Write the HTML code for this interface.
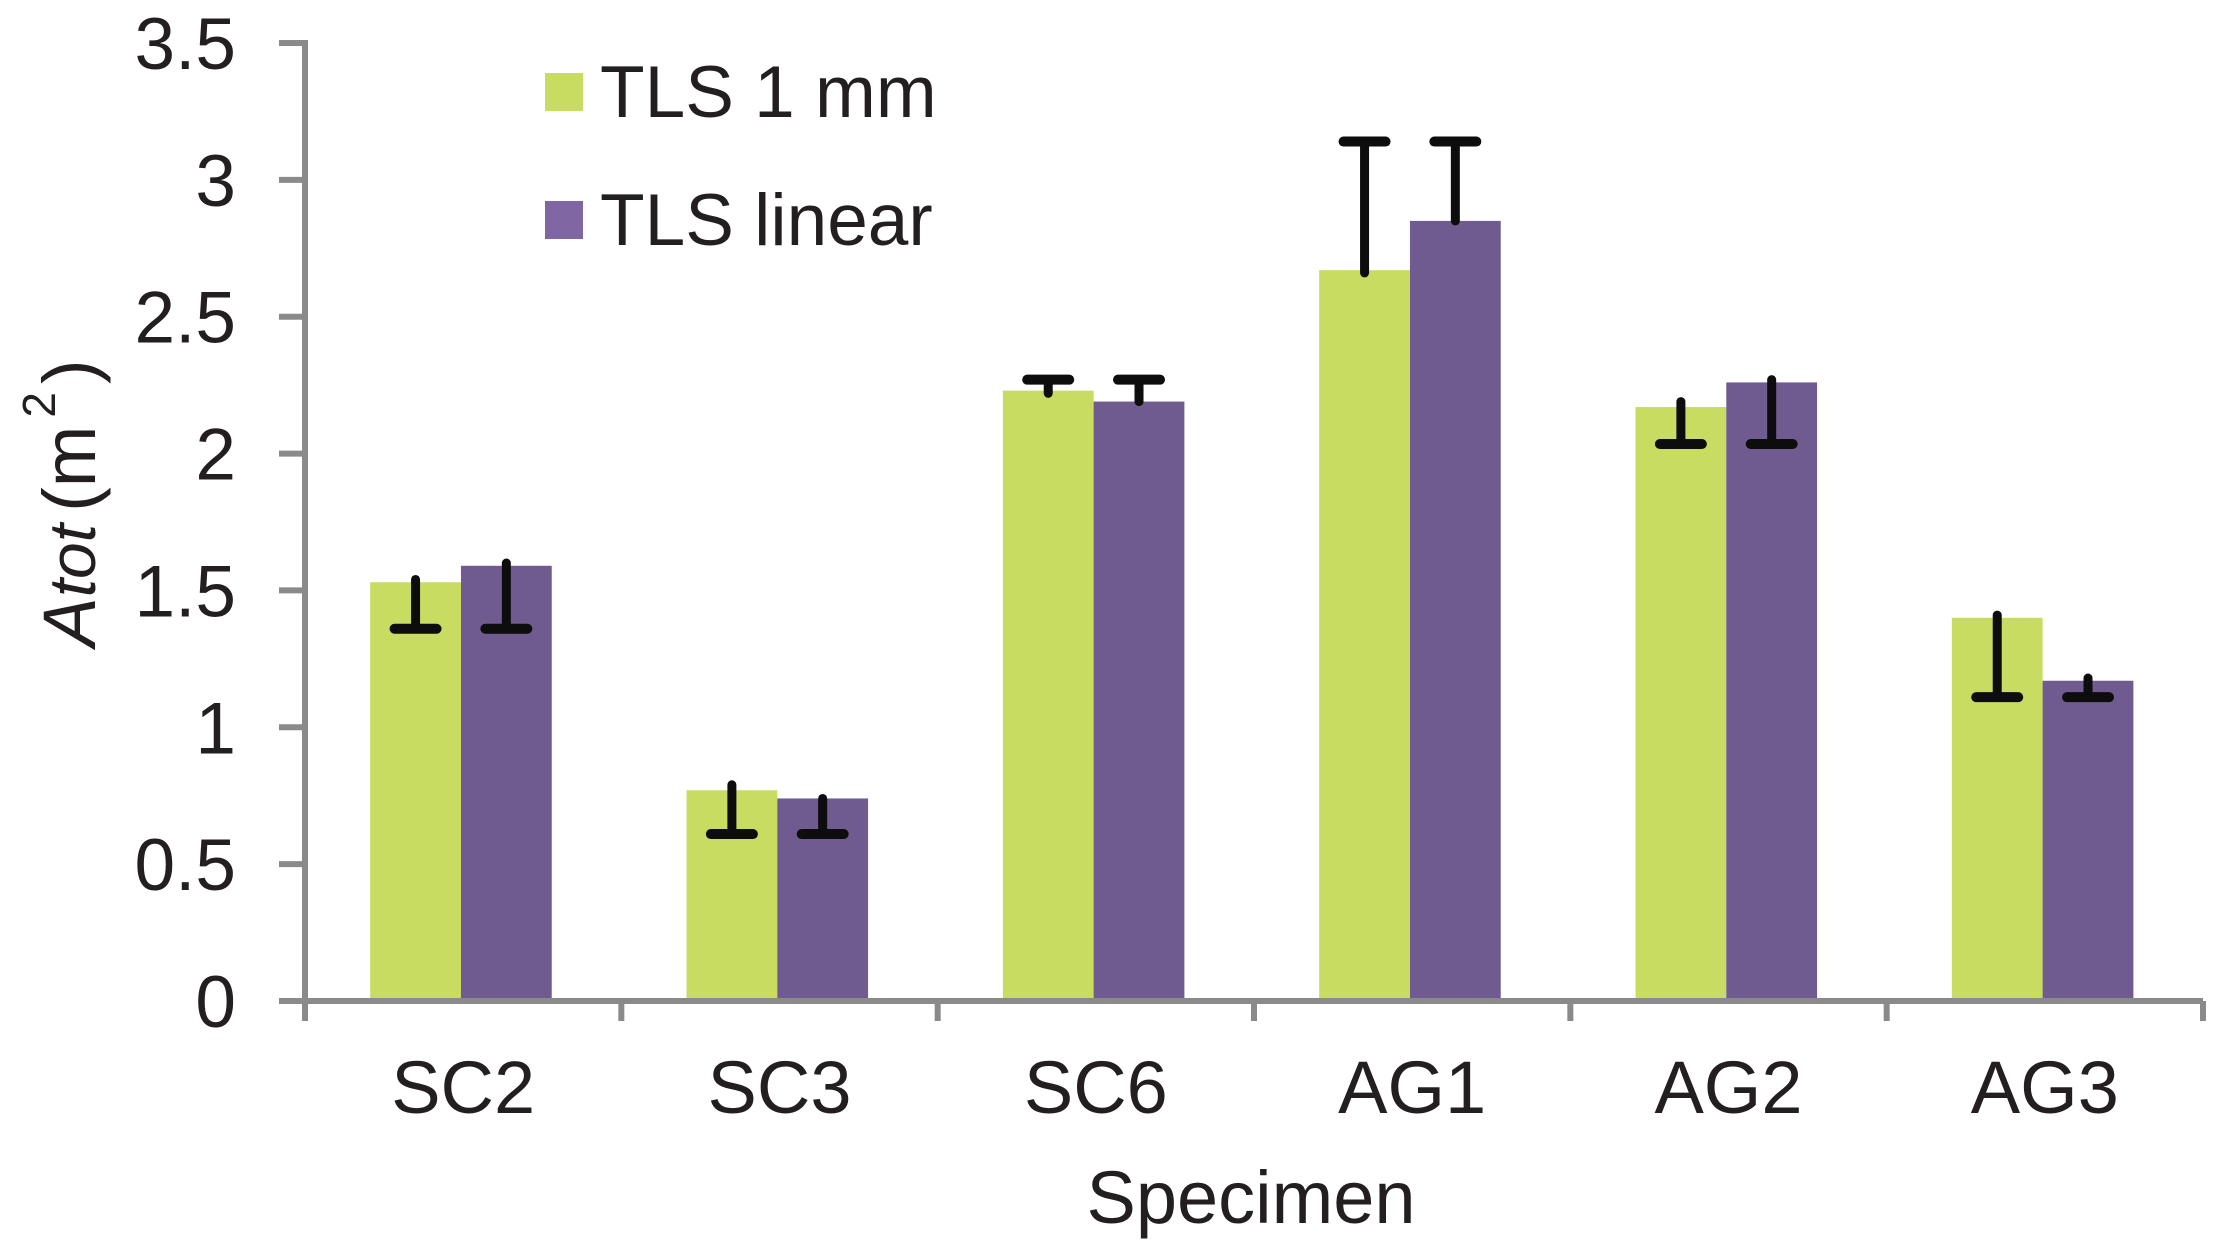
<!DOCTYPE html>
<html><head><meta charset="utf-8"><style>
html,body{margin:0;padding:0;background:#fff;}
svg{display:block;font-family:"Liberation Sans",Arial,sans-serif;}
</style></head><body>
<svg id="chart" width="2214" height="1253" viewBox="0 0 2214 1253" xmlns="http://www.w3.org/2000/svg">
<g id="axes"></g>
<g id="bars"></g>
<g id="errs"></g>
<g>
  <rect x="545" y="73" width="38" height="38" fill="#c8dc62"/>
  <text x="600" y="117" font-size="73" fill="#231f20">TLS 1 mm</text>
  <rect x="545" y="201" width="38" height="38" fill="#8067a4"/>
  <text x="600" y="245" font-size="73" fill="#231f20">TLS linear</text>
</g>
<text transform="translate(95,503) rotate(-90)" text-anchor="middle" font-size="74" fill="#231f20"><tspan font-style="italic">A</tspan><tspan font-style="italic" font-size="66">tot</tspan><tspan dx="12">(m</tspan><tspan font-size="46" dx="8" dy="-40">2</tspan><tspan dx="8" dy="40">)</tspan></text>
<text x="1251" y="1223" text-anchor="middle" font-size="74" fill="#231f20">Specimen</text>
</svg>
<script>
const categories = ["SC2","SC3","SC6","AG1","AG2","AG3"];
const tls1mm = [1.53,0.77,2.23,2.67,2.17,1.40];
const tlsLinear = [1.59,0.74,2.19,2.85,2.26,1.17];
const err1mmLow = [1.36,0.61,2.22,2.66,2.035,1.11];
const err1mmHigh = [1.54,0.79,2.27,3.14,2.19,1.41];
const errLinLow = [1.36,0.61,2.19,2.85,2.035,1.11];
const errLinHigh = [1.60,0.74,2.27,3.14,2.27,1.18];
const yTicks = [0,0.5,1,1.5,2,2.5,3,3.5];
const yTickLabels = ["0","0.5","1","1.5","2","2.5","3","3.5"];

const NS="http://www.w3.org/2000/svg";
const X0=305, X1=2203, Y0=1001, Y1=43, YMAX=3.5;
const catW=(X1-X0)/categories.length;
const yS=v=>Y0-(v/YMAX)*(Y0-Y1);
function mk(tag,attrs,parent){const e=document.createElementNS(NS,tag);for(const k in attrs)e.setAttribute(k,attrs[k]);parent.appendChild(e);return e;}
const axes=document.getElementById('axes'),bars=document.getElementById('bars'),errs=document.getElementById('errs');
const yl=mk('line',{x1:X0,y1:Y1-3,x2:X0,y2:Y0,stroke:'#8a8a8a','stroke-width':6},axes);


yTicks.forEach((t,i)=>{
  const tk=mk('line',{x1:X0-26,y1:yS(t),x2:X0,y2:yS(t),stroke:'#8a8a8a','stroke-width':6},axes);
  
  
  const tx=mk('text',{x:236,y:yS(t)+26,'text-anchor':'end','font-size':73,fill:'#231f20'},axes);
  tx.textContent=yTickLabels[i];
  
  
});
const xl=mk('line',{x1:X0-26,y1:Y0,x2:X1,y2:Y0,stroke:'#8a8a8a','stroke-width':6},axes);


for(let i=0;i<=categories.length;i++){
  const x=X0+i*catW;
  const tk=mk('line',{x1:x,y1:Y0,x2:x,y2:Y0+20,stroke:'#8a8a8a','stroke-width':6},axes);
  
  
}
const bw=catW*0.287, off=catW*0.206;
function errbar(cx,v,lo,hi){
  const s=mk('line',{x1:cx,y1:yS(hi),x2:cx,y2:yS(lo),stroke:'#0d0d0d','stroke-width':9,'stroke-linecap':'round'},errs);
  
  
  const capV=(v-lo)>(hi-v)?lo:hi;
  const c=mk('line',{x1:cx-21,y1:yS(capV),x2:cx+21,y2:yS(capV),stroke:'#0d0d0d','stroke-width':10,'stroke-linecap':'round'},errs);
  
  
}
categories.forEach((c,i)=>{
  const gx=X0+i*catW+off;
  const b1=mk('rect',{x:gx,y:yS(tls1mm[i]),width:bw,height:Y0-3-yS(tls1mm[i]),fill:'#c8dc62'},bars);
  
  
  const b2=mk('rect',{x:gx+bw,y:yS(tlsLinear[i]),width:bw,height:Y0-3-yS(tlsLinear[i]),fill:'#6f5b8f'},bars);
  
  
  errbar(gx+bw/2,tls1mm[i],err1mmLow[i],err1mmHigh[i]);
  errbar(gx+bw*1.5,tlsLinear[i],errLinLow[i],errLinHigh[i]);
  const t=mk('text',{x:X0+(i+0.5)*catW,y:1113,'text-anchor':'middle','font-size':74,fill:'#231f20'},axes);
  t.textContent=c;
  
  
});
</script>
</body></html>
